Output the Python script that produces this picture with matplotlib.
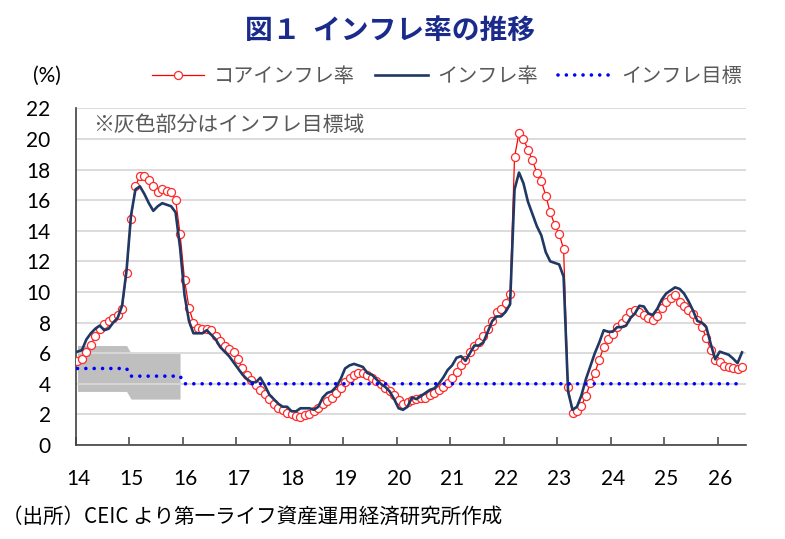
import numpy as np
import matplotlib
matplotlib.use("Agg")
import matplotlib.pyplot as plt

plt.rcParams['font.family'] = ['Noto Sans CJK JP', 'DejaVu Sans']

# ---- data (monthly, Jan 2014 onward) ----
year_labels = ['14', '15', '16', '17', '18', '19', '20', '21', '22', '23', '24', '25', '26']

core_inflation = [
    5.5, 5.6, 6.05, 6.55, 7.1, 7.55, 7.9, 8.1, 8.3, 8.5, 8.9, 11.25,
    14.75, 16.9, 17.6, 17.6, 17.3, 16.9, 16.55, 16.7, 16.6, 16.5, 16.0, 13.8,
    10.8, 8.96, 8.0, 7.65, 7.6, 7.6, 7.5, 7.15, 6.8, 6.5, 6.3, 6.05,
    5.6, 5.0, 4.6, 4.25, 3.95, 3.6, 3.3, 3.0, 2.7, 2.45, 2.3, 2.1,
    2.0, 1.9, 1.85, 1.95, 2.05, 2.2, 2.45, 2.7, 2.9, 3.1, 3.4, 3.75,
    4.1, 4.4, 4.6, 4.7, 4.7, 4.6, 4.4, 4.2, 4.0, 3.75, 3.5, 3.25,
    2.95, 2.65, 2.8, 2.95, 3.0, 3.05, 3.1, 3.25, 3.4, 3.6, 3.8, 4.05,
    4.4, 4.75, 5.2, 5.55, 6.05, 6.45, 6.75, 7.1, 7.6, 8.1, 8.7, 8.9,
    9.3, 9.84, 18.8, 20.4, 20.0, 19.3, 18.6, 17.8, 17.25, 16.3, 15.2, 14.4,
    13.8, 12.8, 3.78, 2.08, 2.19, 2.56, 3.21, 4.04, 4.7, 5.57, 6.4, 6.93,
    7.28, 7.72, 7.98, 8.31, 8.7, 8.8, 8.68, 8.52, 8.3, 8.2, 8.42, 8.96,
    9.33, 9.62, 9.77, 9.33, 9.07, 8.85, 8.59, 8.15, 7.72, 7.0, 6.23, 5.53,
    5.4, 5.18, 5.07, 5.03, 4.96, 5.1,
]

headline_inflation = [
    6.1, 6.2, 6.9, 7.3, 7.6, 7.8, 7.5, 7.6, 8.0, 8.3, 9.1, 11.4,
    15.0, 16.7, 16.9, 16.4, 15.8, 15.3, 15.6, 15.8, 15.7, 15.6, 15.2, 12.9,
    9.8, 8.1, 7.3, 7.3, 7.3, 7.5, 7.2, 6.9, 6.4, 6.1, 5.8, 5.4,
    5.0, 4.6, 4.3, 4.1, 4.1, 4.4, 3.9, 3.3, 3.0, 2.7, 2.5, 2.5,
    2.2, 2.2, 2.4, 2.4, 2.4, 2.3, 2.5, 3.1, 3.4, 3.5, 3.8, 4.3,
    5.0, 5.2, 5.3, 5.2, 5.1, 4.7, 4.6, 4.3, 4.0, 3.8, 3.5, 3.0,
    2.4, 2.3, 2.5, 3.1, 3.0, 3.2, 3.4, 3.6, 3.7, 4.0, 4.4, 4.9,
    5.2, 5.7, 5.8, 5.5, 6.0, 6.5, 6.5, 6.7, 7.4, 8.1, 8.4, 8.4,
    8.7, 9.2, 16.7, 17.8, 17.1, 15.9, 15.1, 14.3, 13.7, 12.6, 12.0, 11.9,
    11.8, 11.0, 3.5, 2.3, 2.5, 3.25, 4.3, 5.15, 6.0, 6.7, 7.5, 7.4,
    7.4, 7.7, 7.7, 7.8, 8.3, 8.6, 9.1, 9.05, 8.6, 8.5, 8.9, 9.5,
    9.9, 10.1, 10.3, 10.2, 9.9, 9.4, 8.8, 8.1, 8.0, 7.7, 6.6, 5.6,
    6.1, 6.0, 5.9, 5.65, 5.35, 6.05,
]

inflation_target = [
    5.0, 5.0, 5.0, 5.0, 5.0, 5.0, 5.0, 5.0, 5.0, 5.0, 5.0, 5.0,
    4.5, 4.5, 4.5, 4.5, 4.5, 4.5, 4.5, 4.5, 4.5, 4.5, 4.5, 4.5,
    4.0, 4.0, 4.0, 4.0, 4.0, 4.0, 4.0, 4.0, 4.0, 4.0, 4.0, 4.0,
    4.0, 4.0, 4.0, 4.0, 4.0, 4.0, 4.0, 4.0, 4.0, 4.0, 4.0, 4.0,
    4.0, 4.0, 4.0, 4.0, 4.0, 4.0, 4.0, 4.0, 4.0, 4.0, 4.0, 4.0,
    4.0, 4.0, 4.0, 4.0, 4.0, 4.0, 4.0, 4.0, 4.0, 4.0, 4.0, 4.0,
    4.0, 4.0, 4.0, 4.0, 4.0, 4.0, 4.0, 4.0, 4.0, 4.0, 4.0, 4.0,
    4.0, 4.0, 4.0, 4.0, 4.0, 4.0, 4.0, 4.0, 4.0, 4.0, 4.0, 4.0,
    4.0, 4.0, 4.0, 4.0, 4.0, 4.0, 4.0, 4.0, 4.0, 4.0, 4.0, 4.0,
    4.0, 4.0, 4.0, 4.0, 4.0, 4.0, 4.0, 4.0, 4.0, 4.0, 4.0, 4.0,
    4.0, 4.0, 4.0, 4.0, 4.0, 4.0, 4.0, 4.0, 4.0, 4.0, 4.0, 4.0,
    4.0, 4.0, 4.0, 4.0, 4.0, 4.0, 4.0, 4.0, 4.0, 4.0, 4.0, 4.0,
    4.0, 4.0, 4.0, 4.0, 4.0, 4.0,
]

target_band_low = [
    3.5, 3.5, 3.5, 3.5, 3.5, 3.5, 3.5, 3.5, 3.5, 3.5, 3.5, 3.5,
    3.0, 3.0, 3.0, 3.0, 3.0, 3.0, 3.0, 3.0, 3.0, 3.0, 3.0, 3.0,
]
target_band_high = [
    6.5, 6.5, 6.5, 6.5, 6.5, 6.5, 6.5, 6.5, 6.5, 6.5, 6.5, 6.5,
    6.0, 6.0, 6.0, 6.0, 6.0, 6.0, 6.0, 6.0, 6.0, 6.0, 6.0, 6.0,
]

# ---- figure ----
W, H = 785, 539
fig = plt.figure(figsize=(W / 100, H / 100), dpi=100)
ax = fig.add_axes([75.7 / W, 1 - 445 / H, (746 - 75.7) / W, (445 - 108.3) / H])

months = np.arange(len(core_inflation))
band_months = np.arange(len(target_band_low))

ax.fill_between(band_months, target_band_low, target_band_high,
                color='#bfbfbf', lw=0, zorder=0.3)

ax.plot(months, core_inflation, color='#ff0000', lw=0.9, marker='o', ms=5.8,
        mfc='white', mec='#ff2a2a', mew=0.9, zorder=3, label='コアインフレ率')
ax.plot(months, headline_inflation, color='#1f3864', lw=1.9, zorder=4,
        label='インフレ率')
ax.plot(months, inflation_target, color='#0000ff', lw=2.6,
        linestyle=(0, (0.01, 2.3)), dash_capstyle='round', zorder=5,
        label='インフレ目標')

ax.set_xlim(-0.4, 149.9)
ax.set_ylim(0, 22)
ax.set_yticks(np.arange(0, 23, 2))
num_font = dict(family='Lato', size=15)
ax.set_yticklabels([str(v) for v in range(0, 23, 2)], fontdict=num_font)

tick_pos = np.arange(len(year_labels)) * 12 - 0.4
ax.set_xticks(tick_pos)
ax.set_xticklabels([])
ax.set_xticks(np.arange(len(year_labels)) * 12 + 0.1, minor=True)
ax.set_xticklabels(year_labels, minor=True, fontdict=num_font)
ax.tick_params(axis='x', which='major', direction='in', length=6, width=1.1,
               color='#404040')
ax.tick_params(axis='x', which='minor', length=0, pad=17, colors='black')
ax.tick_params(axis='y', length=0, pad=18, colors='black')

ax.set_axisbelow(True)
ax.yaxis.grid(True, color='#d9d9d9', lw=1.3)
for s in ['top', 'right']:
    ax.spines[s].set_visible(False)
for s in ['left', 'bottom']:
    ax.spines[s].set_color('#404040')
    ax.spines[s].set_linewidth(1.2)

# ---- texts ----
fig.text(0.497, 1 - 31 / H, '図１  インフレ率の推移', ha='center', va='center',
         fontsize=20, fontweight='bold', color='#1a2b8c')
fig.text(47 / W, 1 - 76 / H, '(%)', ha='center', va='center',
         family='Lato', fontsize=15, color='black')
fig.text(93 / W, 1 - 125 / H, '※灰色部分はインフレ目標域', ha='left',
         va='center', fontsize=15, color='#595959')
fig.text(2 / W, 1 - 517 / H, '（出所）CEIC より第一ライフ資産運用経済研究所作成',
         ha='left', va='center', fontsize=14.8, color='black')

leg = fig.legend(loc='center', bbox_to_anchor=(0.569, 1 - 77 / H), ncol=3,
                 frameon=False, fontsize=14.5, handlelength=2.6,
                 handletextpad=0.5, columnspacing=1.0, borderpad=0,
                 borderaxespad=0)
for t in leg.get_texts():
    t.set_color('#595959')

fig.savefig('out.png', dpi=100)
